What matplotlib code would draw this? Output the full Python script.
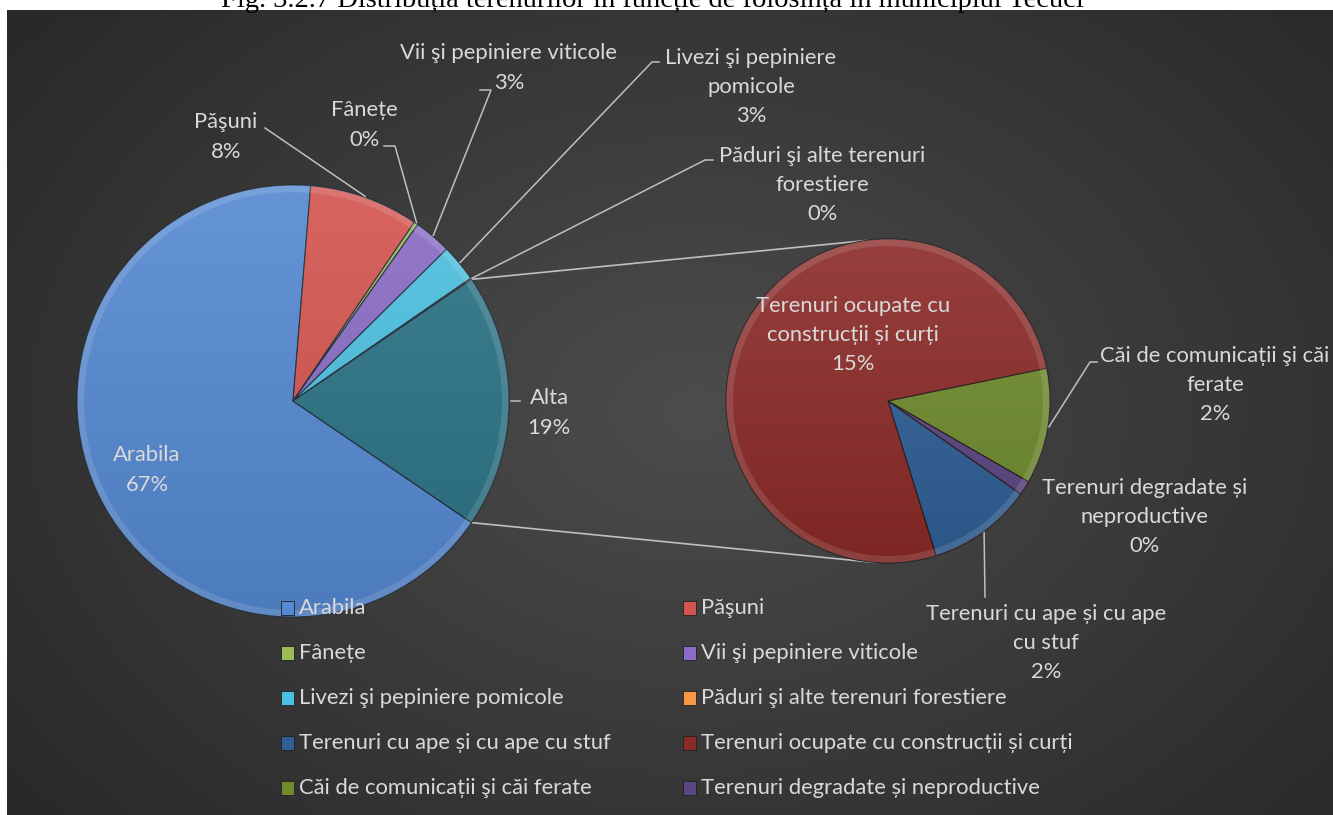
import numpy as np
import matplotlib
matplotlib.use("Agg")
import matplotlib.pyplot as plt
from matplotlib.patches import Rectangle, Wedge, Circle

W, H = 1333, 815

# main pie (Alta = sum of the secondary pie)
main_labels = ["Arabila", "Păşuni", "Fânețe", "Vii şi pepiniere viticole",
               "Livezi şi pepiniere pomicole", "Păduri şi alte terenuri forestiere"]
main_values = [66.9, 8.2, 0.3, 2.8, 2.8, 0.1]
main_colors = ["#5589d2", "#d4544f", "#9bbb59", "#8a6cc6", "#4cc0e0", "#f79646"]

sec_labels = ["Terenuri cu ape și cu ape cu stuf", "Terenuri ocupate cu construcții și curți",
              "Căi de comunicații şi căi ferate", "Terenuri degradate și neproductive"]
sec_values = [2.0, 14.6, 2.2, 0.27]
sec_colors = ["#2f5f96", "#8b2b28", "#6e8b2e", "#5b4683"]

alta_label = "Alta"
alta_color = "#2b7385"

# label texts as shown (with line breaks)
main_text = ["Arabila", "Păşuni", "Fânețe", "Vii şi pepiniere viticole",
             "Livezi şi pepiniere\npomicole", "Păduri şi alte terenuri\nforestiere"]
sec_text = ["Terenuri cu ape și cu ape\ncu stuf", "Terenuri ocupate cu\nconstrucții și curți",
            "Căi de comunicații şi căi\nferate", "Terenuri degradate și\nneproductive"]

title = "Fig. 3.2.7 Distribuția terenurilor în funcție de folosință în municipiul Tecuci"

plt.rcParams['font.family'] = ['Lato', 'DejaVu Sans']
TXT = "#d9d9d9"
LEAD = "#bfbfbf"
FS = 15.8
LINE = 30  # px between label lines


def py(y):
    return H - y


fig = plt.figure(figsize=(W / 100, H / 100), dpi=100)
ax = fig.add_axes([0, 0, 1, 1])

# dark radial background
gx, gy = np.meshgrid(np.linspace(0, 1, 400), np.linspace(0, 1, 250))
r = np.sqrt(((gx - 0.52) / 0.75) ** 2 + ((gy - 0.5) / 0.9) ** 2)
shade = 0.30 - 0.16 * np.clip(r, 0, 1)
ax.imshow(np.dstack([shade, shade, shade]), extent=[7, W, 0, py(10)],
          aspect="auto", zorder=0, interpolation="bilinear")

ax.text(652, py(7), title, ha="center", va="baseline", fontsize=20.5,
        family="Liberation Serif", color="black", zorder=1)

total = sum(main_values) + sum(sec_values)
alta_value = sum(sec_values)

# main pie
mc = (293, py(401))
mr = 216
vals = main_values + [alta_value]
cols = main_colors + [alta_color]
alta_deg = alta_value / total * 360
wedges, _ = ax.pie(vals, colors=cols, center=mc, radius=mr, startangle=-alta_deg / 2,
                   counterclock=False, frame=True,
                   wedgeprops=dict(edgecolor="#1e2a38", linewidth=0.8))

# secondary pie
sc = (888, py(401))
sr = 162
swedges, _ = ax.pie(sec_values, colors=sec_colors, center=sc, radius=sr, startangle=-35,
                    counterclock=False, frame=True,
                    wedgeprops=dict(edgecolor="#2a1a1a", linewidth=0.8))
ax.set_xlim(0, W)
ax.set_ylim(0, H)
ax.axis("off")

# soft top-light / bottom-dark shading and a light rim, like the Excel bevel
grad = np.linspace(1, 0, 200)[:, None] * np.ones((1, 2))
for center, radius, ws in [(mc, mr, wedges), (sc, sr, swedges)]:
    for w in ws:
        w.set_zorder(2)
        ax.add_patch(Wedge(center, radius, w.theta1, w.theta2, width=7,
                           facecolor="white", alpha=0.12, lw=0, zorder=2.2))
    rgba = np.zeros((200, 2, 4))
    rgba[..., :3] = grad[..., None]
    rgba[..., 3] = 0.10 + 0.0 * grad
    clip = Circle(center, radius, transform=ax.transData)
    im = ax.imshow(rgba, extent=[center[0] - radius, center[0] + radius,
                                 center[1] - radius, center[1] + radius],
                   aspect="auto", zorder=2.1, interpolation="bilinear")
    im.set_clip_path(clip)
ax.set_xlim(0, W)
ax.set_ylim(0, H)


def edge_pt(center, radius, ang):
    a = np.deg2rad(ang)
    return center[0] + radius * np.cos(a), center[1] + radius * np.sin(a)


def mid(w):
    return (w.theta1 + w.theta2) / 2


def pct(v):
    return "{:.0f}%".format(v / total * 100)


def label(tx, ty, txt):
    # ty = centre of the first line, in px from the top
    n = txt.count("\n") + 1
    ax.text(tx, py(ty + (n - 1) * LINE / 2), txt, ha="center", va="center",
            fontsize=FS, color=TXT, linespacing=1.58, zorder=4)


# connectors between pies
alta_w = wedges[-1]
for ang_main, ang_sec in [(alta_w.theta2, 98), (alta_w.theta1, 265)]:
    x0, y0 = edge_pt(mc, mr, ang_main)
    x1, y1 = edge_pt(sc, sr, ang_sec)
    ax.plot([x0, x1], [y0, y1], color=LEAD, lw=1.2, zorder=1.5)

# main labels: (text center x, first line y in px, leader start)
main_pos = [(147, 455, None),
            (226, 122, [(265, 128)]),
            (364, 110, [(384, 146), (395, 146)]),
            (509, 53, [(480, 90), (491, 90)]),
            (751, 57, [(659, 62), (652, 62)]),
            (822, 155, [(713, 160), (705, 160)])]
for i, (w, (tx, ty, lead)) in enumerate(zip(wedges[:-1], main_pos)):
    label(tx, ty, main_text[i] + "\n" + pct(main_values[i]))
    if lead:
        ex, ey = edge_pt(mc, mr + 1, mid(w))
        xs = [p[0] for p in lead] + [ex]
        ys = [py(p[1]) for p in lead] + [ey]
        ax.plot(xs, ys, color=LEAD, lw=1.1, zorder=3)

# Alta label
label(549, 398, alta_label + "\n" + pct(alta_value))
ax.plot([edge_pt(mc, mr, 0)[0] + 2, 520], [py(401), py(401)], color=LEAD, lw=1.1, zorder=3)

# secondary labels
sec_pos = [(1046, 613, [(985, 597)]),
           (853, 305, None),
           (1215, 355, [(1097, 362), (1090, 362)]),
           (1145, 487, None)]
for i, (w, (tx, ty, lead)) in enumerate(zip(swedges, sec_pos)):
    label(tx, ty, sec_text[i] + "\n" + pct(sec_values[i]))
    if lead:
        ex, ey = edge_pt(sc, sr + 1, mid(w))
        xs = [p[0] for p in lead] + [ex]
        ys = [py(p[1]) for p in lead] + [ey]
        ax.plot(xs, ys, color=LEAD, lw=1.1, zorder=3)

# legend, two columns, row-major like the original
leg_labels = main_labels + sec_labels
leg_colors = main_colors + sec_colors
for i, (lab, c) in enumerate(zip(leg_labels, leg_colors)):
    col, row = i % 2, i // 2
    x = 281 + col * 402
    y = 608 + row * 45
    ax.add_patch(Rectangle((x, py(y) - 7), 13, 14, facecolor=c, edgecolor="#222222",
                           lw=0.6, zorder=5))
    ax.text(x + 18, py(y), lab, ha="left", va="center", fontsize=FS, color=TXT, zorder=5)

fig.savefig("out.png", dpi=100, facecolor="white")
